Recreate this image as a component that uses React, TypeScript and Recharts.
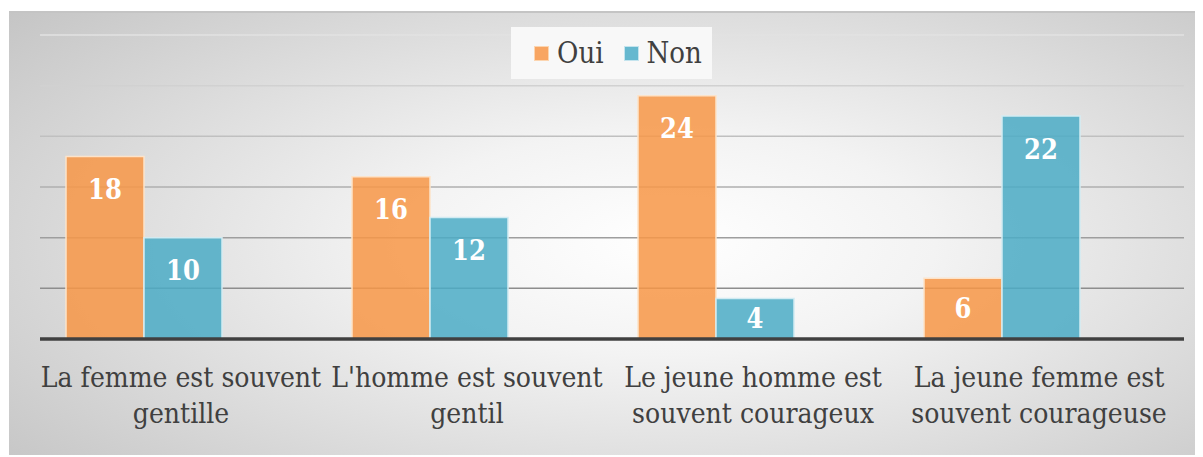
import React from "react";
import { Bar, BarChart, CartesianGrid, LabelList, Legend, XAxis, YAxis } from "recharts";

// catégories (une ligne par élément, comme dans la figure)
const categories: string[][] = [
  ["La femme est souvent", "gentille"],
  ["L'homme est souvent", "gentil"],
  ["Le jeune homme est", "souvent courageux"],
  ["La jeune femme est", "souvent courageuse"],
];
const oui = [18, 16, 24, 6];
const non = [10, 12, 4, 22];
const yTicks = [0, 5, 10, 15, 20, 25, 30];

const data = categories.map((lines, i) => ({
  name: lines.join(" "),
  lines,
  oui: oui[i],
  non: non[i],
  vide: null, // troisième série vide d'Excel, réserve la place
}));

const FONT = "DejaVu Serif Condensed, DejaVu Serif, serif";
const TEXT = "#404040";
const ORANGE = "#F79646";
const BLUE = "#4BACC6";

function CatTick(props: any) {
  const { x, y, payload } = props;
  const lines: string[] = categories[payload.index] ?? [String(payload.value)];
  return (
    <g>
      {lines.map((l, i) => (
        <text
          key={i}
          x={x - 2}
          y={y + 40 + i * 36}
          textAnchor="middle"
          style={{ fontFamily: FONT }}
          fontSize={28}
          fill={TEXT}
        >
          {l}
        </text>
      ))}
    </g>
  );
}

function BarValue(props: any) {
  const { x, y, width, height, value } = props;
  const cy = y + Math.min(33, height / 2);
  return (
    <text
      x={x + width / 2}
      y={cy}
      dy="0.35em"
      textAnchor="middle"
      style={{ fontFamily: FONT }}
      fontWeight="bold"
      fontSize={27}
      fill="#ffffff"
    >
      {value}
    </text>
  );
}

function LegendBox() {
  const item = (color: string, border: string, label: string, gap: number) => (
    <span style={{ display: "flex", alignItems: "center", marginRight: gap }}>
      <span
        style={{
          width: 13,
          height: 13,
          background: color,
          border: `1px solid ${border}`,
          marginRight: 8,
        }}
      />
      {label}
    </span>
  );
  return (
    <div
      style={{
        width: 201,
        height: 52,
        boxSizing: "border-box",
        paddingLeft: 23,
        background: "#f8f8f8",
        display: "flex",
        alignItems: "center",
        justifyContent: "flex-start",
        fontFamily: FONT,
        fontSize: 29,
        color: TEXT,
      }}
    >
      {item("#F8A562", "#fcd5b0", "Oui", 20)}
      {item("#66B8CF", "#c4e4ee", "Non", 0)}
    </div>
  );
}

export default function App() {
  return (
    <div
      style={{
        marginLeft: 1,
        marginTop: 3,
        width: 1195,
        height: 444,
        boxSizing: "border-box",
        borderTop: "2px solid #c4c4c4",
        background:
          "radial-gradient(ellipse 75% 85% at 55% 52%, #ffffff 0%, #f3f3f3 30%, #c2c2c2 100%)",
      }}
    >
      <BarChart
        width={1195}
        height={442}
        data={data}
        margin={{ top: 22, right: 20, left: 31, bottom: 0 }}
        barCategoryGap={26}
        barGap={0}
      >
        <defs>
          <linearGradient id="gridGrad" gradientUnits="userSpaceOnUse" x1="0" y1="22" x2="0" y2="326">
            <stop offset="0%" stopColor="#e2e2e2" />
            <stop offset="100%" stopColor="#7c7c7c" />
          </linearGradient>
        </defs>
        <CartesianGrid vertical={false} stroke="url(#gridGrad)" strokeWidth={1.5} />
        <YAxis hide domain={[0, 30]} ticks={yTicks} />
        <XAxis
          dataKey="name"
          height={116}
          tickLine={false}
          axisLine={{ stroke: "#404040", strokeWidth: 3.5 }}
          tick={<CatTick />}
          interval={0}
        />
        <Legend
          layout="horizontal"
          verticalAlign="middle"
          align="center"
          content={<LegendBox />}
          wrapperStyle={{ left: 502, top: 14, width: 201, height: 52 }}
        />
        <Bar
          dataKey="oui"
          name="Oui"
          fill={ORANGE}
          fillOpacity={0.85}
          stroke="#fde3c9"
          strokeWidth={1.5}
          isAnimationActive={false}
        >
          <LabelList dataKey="oui" content={<BarValue />} />
        </Bar>
        <Bar
          dataKey="non"
          name="Non"
          fill={BLUE}
          fillOpacity={0.85}
          stroke="#d2ebf2"
          strokeWidth={1.5}
          isAnimationActive={false}
        >
          <LabelList dataKey="non" content={<BarValue />} />
        </Bar>
        <Bar dataKey="vide" legendType="none" fill="none" isAnimationActive={false} />
      </BarChart>
    </div>
  );
}
